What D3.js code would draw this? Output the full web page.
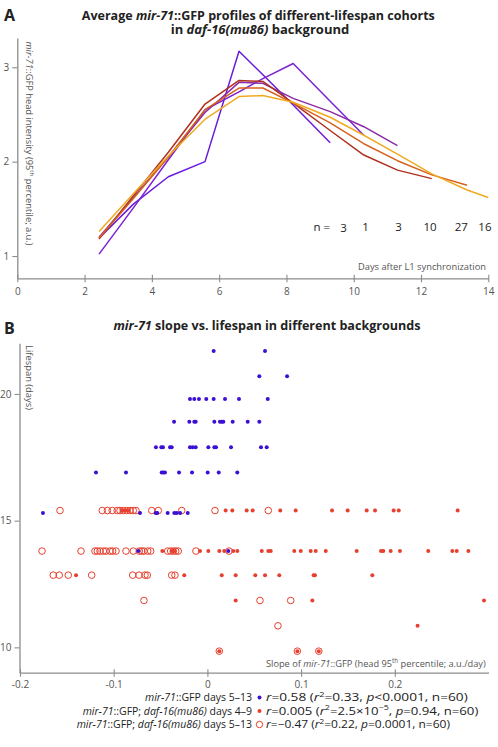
<!DOCTYPE html>
<html><head><meta charset="utf-8">
<script src="https://cdn.jsdelivr.net/npm/d3@7"></script>
<style>body{margin:0;background:#fff}svg{display:block;font-family:"Open Sans",sans-serif}</style>
</head><body><svg id="c" width="498" height="747"></svg>
<script>
// ---------- Panel A data ----------
const days = [2.43,3.45,4.49,5.58,6.59,7.3,8.2,9.3,10.3,11.3,12.32,13.37,14.0];
const cohortN = [3,1,3,10,27,16];
const profileN3a  = [1.19,1.55,1.84,2.00,3.17,2.92,2.60,2.20];
const profileN1   = [1.02,1.51,2.02,2.55,2.74,2.88,3.04,2.64,2.28];
const profileN3b  = [1.20,1.62,2.05,2.52,2.84,2.83,2.67,2.53,2.37,2.17];
const profileN10  = [1.18,1.64,2.10,2.61,2.86,2.85,2.62,2.33,2.07,1.91,1.82];
const profileN27  = [1.19,1.61,2.05,2.55,2.78,2.78,2.62,2.41,2.19,2.01,1.86,1.75];
const profileN16  = [1.26,1.66,2.06,2.45,2.69,2.70,2.63,2.47,2.28,2.08,1.87,1.70,1.62];
const xTicksA = [0,2,4,6,8,10,12,14];
const yTicksA = [1,2,3];

// ---------- Panel B data ----------
const wtLifespans = [21.7,20.7,19.8,18.9,17.9,16.9,15.3,13.8];
const wtSlopes = [
  [0.0067,0.0615],
  [0.0554,0.0850],
  [-0.0186,-0.0140,-0.0090,-0.0012,0.0067,0.0188,0.0337,0.0644],
  [-0.0356,-0.0193,-0.0140,-0.0125,0.0074,0.0134,0.0153,0.0170,0.0270,0.0430,0.0554],
  [-0.0549,-0.0492,-0.0474,-0.0399,-0.0381,-0.0186,-0.0157,-0.0125,0.0010,0.0074,0.0092,0.0252,0.0572,0.0633],
  [-0.1189,-0.0869,-0.0488,-0.0471,-0.0453,-0.0303,-0.0164,0.0003,0.0121,0.0319],
  [-0.1755,-0.0719,-0.0552,-0.0535,-0.0424,-0.0353,-0.0328,-0.0292,-0.0210],
  [-0.0737,0.0223]
];
const dafLifespans = [15.4,13.8,12.85,11.85,10.85,9.85];
const dafEarlySlopes = [
  [-0.0911,-0.0879,-0.0847,0.0195,0.0266,0.0419,0.0483,0.0778,0.0942,0.1330,0.1497,0.1700,0.1789,0.1988,0.2042,0.2671],
  [-0.0481,-0.0381,-0.0356,-0.0079,0.0010,0.0127,0.0180,0.0276,0.0319,0.0580,0.0650,0.0676,0.0927,0.0996,0.1102,0.1156,0.1263,0.1593,0.1853,0.1877,0.1956,0.2055,0.2357,0.2614,0.2661,0.2785],
  [-0.1402,-0.0247,0.0153,0.0302,0.0511,0.0615,0.0767,0.1134,0.1148,0.1760],
  [0.0302,0.1120,0.2952],
  [0.2243],
  [0.0127,0.0960,0.1189]
];
const dafLateSlopes = [
  [-0.1573,-0.1122,-0.1067,-0.1015,-0.0962,-0.0933,-0.0898,-0.0861,-0.0826,-0.0791,-0.0762,-0.0594,-0.0524,-0.0274,0.0081,0.0650],
  [-0.1765,-0.1349,-0.1200,-0.1175,-0.1146,-0.1111,-0.1082,-0.1039,-0.1011,-0.0975,-0.0869,-0.0791,-0.0727,-0.0701,-0.0677,-0.0637,-0.0605,-0.0424,-0.0392,-0.0364,-0.0338,-0.0311,-0.0122,0.0231],
  [-0.1645,-0.1581,-0.1485,-0.1235,-0.0797,-0.0730,-0.0666,-0.0641,-0.0381,-0.0346],
  [-0.0677,0.0561,0.0889],
  [0.0753],
  [0.0127,0.0960,0.1189]
];
const xTicksB = [-0.2,-0.1,0,0.1,0.2];
const yTicksB = [10,15,20];

// ---------- styles ----------
const profiles = [profileN3a,profileN1,profileN3b,profileN10,profileN27,profileN16];
const profileColors = ["#6b1bdc","#7c22d2","#8c2aa6","#b0301e","#d5621c","#f0aa22"];
const nLabelAt = [9.7,10.35,11.33,12.27,13.2,13.9];
const BLUE = "#3c10d4", RED = "#e8402e";
const AX = "#8c8c8c", TL = "#555";

const svg = d3.select("#c");

function rich(textSel, segs, fs){
  let shift = 0;
  segs.forEach(s=>{
    const t = textSel.append("tspan").text(s.t);
    if (s.i) t.attr("font-style","italic");
    if (s.sup){
      t.attr("font-size", fs*0.68);
      if (!shift){ t.attr("dy", -fs*0.4); shift = fs*0.4; }
    } else if (shift){ t.attr("dy", shift); shift = 0; }
  });
  return textSel;
}

// ---------- Panel A ----------
const xA = d3.scaleLinear().domain([0,14]).range([17.3,488.3]);
const yA = d3.scaleLinear().domain([0.764,3.31]).range([278.3,38]);

svg.append("text").attr("x",4).attr("y",21).attr("font-size",16).attr("font-weight","bold").attr("fill","#222").text("A");
rich(svg.append("text").attr("x",258.3).attr("y",19.5).attr("text-anchor","middle").attr("font-size",13).attr("font-weight","bold").attr("fill","#222")
  .attr("textLength",353).attr("lengthAdjust","spacingAndGlyphs"),
  [{t:"Average "},{t:"mir-71",i:1},{t:"::GFP profiles of different-lifespan cohorts"}],13);
rich(svg.append("text").attr("x",260).attr("y",33.5).attr("text-anchor","middle").attr("font-size",13).attr("font-weight","bold").attr("fill","#222")
  .attr("textLength",178.6).attr("lengthAdjust","spacingAndGlyphs"),
  [{t:"in "},{t:"daf-16(mu86)",i:1},{t:" background"}],13);

const gxA = svg.append("g").attr("transform","translate(0,278.3)")
  .call(d3.axisBottom(xA).tickValues(xTicksA).tickFormat(d3.format("d")).tickSizeInner(4).tickSizeOuter(0).tickPadding(6));
const gyA = svg.append("g").attr("transform","translate(17.3,0)")
  .call(d3.axisLeft(yA).tickValues(yTicksA).tickFormat(d3.format("d")).tickSizeInner(5).tickSizeOuter(0).tickPadding(3));
gxA.selectAll(".tick line").attr("y1",-3.5);
[gxA,gyA].forEach(g=>{
  g.select(".domain").attr("stroke",AX).attr("stroke-width",1.3);
  g.selectAll(".tick line").attr("stroke",AX).attr("stroke-width",1.1);
  g.selectAll(".tick text").attr("fill",TL).attr("font-size",10).attr("font-family","Open Sans");
});

const line = d3.line().x((d,i)=>xA(days[i])).y(d=>yA(d));
profiles.forEach((p,k)=>{
  svg.append("path").datum(p).attr("d",line).attr("fill","none")
    .attr("stroke",profileColors[k]).attr("stroke-width",1.5).attr("stroke-linejoin","round");
});

svg.append("text").attr("x",330).attr("y",230.5).attr("text-anchor","end").attr("font-size",11.5).attr("fill","#222").text("n =");
cohortN.forEach((n,k)=>{
  svg.append("text").attr("x",xA(nLabelAt[k])).attr("y",k===0?232:230.5).attr("text-anchor","middle")
    .attr("font-size",11.5).attr("fill","#222").text(n);
});
svg.append("text").attr("x",486).attr("y",270).attr("text-anchor","end").attr("font-size",9).attr("fill",TL)
  .attr("textLength",128).attr("lengthAdjust","spacingAndGlyphs").text("Days after L1 synchronization");
rich(svg.append("text").attr("transform","translate(26,41.5) rotate(90)").attr("font-size",9).attr("fill",TL)
  .attr("textLength",204).attr("lengthAdjust","spacingAndGlyphs"),
  [{t:"mir-71",i:1},{t:"::GFP  head intensity (95"},{t:"th",sup:1},{t:" percentile; a.u.)"}],9);

// ---------- Panel B ----------
const xB = d3.scaleLinear().domain([-0.2,0.3]).range([20,488.5]);
const yB = d3.scaleLinear().domain([9,22]).range([672.7,343.3]);

svg.append("text").attr("x",4).attr("y",334).attr("font-size",16).attr("font-weight","bold").attr("fill","#222").text("B");
rich(svg.append("text").attr("x",267).attr("y",329.5).attr("text-anchor","middle").attr("font-size",13).attr("font-weight","bold").attr("fill","#222")
  .attr("textLength",307).attr("lengthAdjust","spacingAndGlyphs"),
  [{t:"mir-71",i:1},{t:" slope vs. lifespan in different backgrounds"}],13);

const gxB = svg.append("g").attr("transform","translate(0,672.7)")
  .call(d3.axisBottom(xB).tickValues(xTicksB).tickSizeInner(4).tickSizeOuter(0).tickPadding(4.5)
    .tickFormat(d=>d===0?"0":d3.format(".1f")(d).replace("\u2212","-")));
const gyB = svg.append("g").attr("transform","translate(19.5,0)")
  .call(d3.axisLeft(yB).tickValues(yTicksB).tickFormat(d3.format("d")).tickSizeInner(5).tickSizeOuter(0).tickPadding(3));
gxB.selectAll(".tick line").attr("y1",-3.5);
[gxB,gyB].forEach(g=>{
  g.select(".domain").attr("stroke",AX).attr("stroke-width",1.3);
  g.selectAll(".tick line").attr("stroke",AX).attr("stroke-width",1.1);
  g.selectAll(".tick text").attr("fill",TL).attr("font-size",10).attr("font-family","Open Sans");
});

rich(svg.append("text").attr("x",485.7).attr("y",666.5).attr("text-anchor","end").attr("font-size",9.5).attr("fill",TL)
  .attr("textLength",219.7).attr("lengthAdjust","spacingAndGlyphs"),
  [{t:"Slope of "},{t:"mir-71",i:1},{t:"::GFP (head 95"},{t:"th",sup:1},{t:" percentile; a.u./day)"}],9.5);
svg.append("text").attr("transform","translate(26,345) rotate(90)").attr("font-size",9).attr("fill",TL)
  .attr("textLength",65).attr("lengthAdjust","spacingAndGlyphs").text("Lifespan (days)");

function flat(ls, ss){ const out=[]; ss.forEach((row,i)=>row.forEach(s=>out.push([s,ls[i]]))); return out; }
const gPts = svg.append("g");
gPts.selectAll(".o").data(flat(dafLifespans,dafLateSlopes)).join("circle")
  .attr("cx",d=>xB(d[0])).attr("cy",d=>yB(d[1])).attr("r",3.3).attr("fill","none").attr("stroke",RED).attr("stroke-width",1);
gPts.selectAll(".f").data(flat(dafLifespans,dafEarlySlopes)).join("circle")
  .attr("cx",d=>xB(d[0])).attr("cy",d=>yB(d[1])).attr("r",2).attr("fill",RED);
gPts.selectAll(".b").data(flat(wtLifespans,wtSlopes)).join("circle")
  .attr("cx",d=>xB(d[0])).attr("cy",d=>yB(d[1])).attr("r",2).attr("fill",BLUE);

// ---------- Legend ----------
const legY = [701,714.5,728];
const legLeft = [
  [{t:"mir-71",i:1},{t:"::GFP days 5–13"}],
  [{t:"mir-71",i:1},{t:"::GFP; "},{t:"daf-16(mu86)",i:1},{t:" days 4–9"}],
  [{t:"mir-71",i:1},{t:"::GFP; "},{t:"daf-16(mu86)",i:1},{t:" days 5–13"}]
];
const legRight = [
  [{t:"r",i:1},{t:"=0.58 ("},{t:"r",i:1},{t:"2",sup:1},{t:"=0.33, "},{t:"p",i:1},{t:"<0.0001, n=60)"}],
  [{t:"r",i:1},{t:"=0.005 ("},{t:"r",i:1},{t:"2",sup:1},{t:"=2.5×10"},{t:"−5",sup:1},{t:", "},{t:"p",i:1},{t:"=0.94, n=60)"}],
  [{t:"r",i:1},{t:"=−0.47 ("},{t:"r",i:1},{t:"2",sup:1},{t:"=0.22, "},{t:"p",i:1},{t:"=0.0001, n=60)"}]
];
const legRightW = [201.7,212.3,184];
legY.forEach((y,i)=>{
  rich(svg.append("text").attr("x",252).attr("y",y).attr("text-anchor","end").attr("font-size",10.5).attr("fill","#222"), legLeft[i],10.5);
  rich(svg.append("text").attr("x",266).attr("y",y).attr("font-size",10.5).attr("fill","#222")
    .attr("textLength",legRightW[i]).attr("lengthAdjust","spacingAndGlyphs"), legRight[i],10.5);
});
svg.append("circle").attr("cx",259.5).attr("cy",legY[0]-3.5).attr("r",2).attr("fill",BLUE);
svg.append("circle").attr("cx",259.5).attr("cy",legY[1]-3.5).attr("r",2).attr("fill",RED);
svg.append("circle").attr("cx",259.5).attr("cy",legY[2]-3.5).attr("r",3.2).attr("fill","none").attr("stroke",RED).attr("stroke-width",1);
</script>
</body></html>
